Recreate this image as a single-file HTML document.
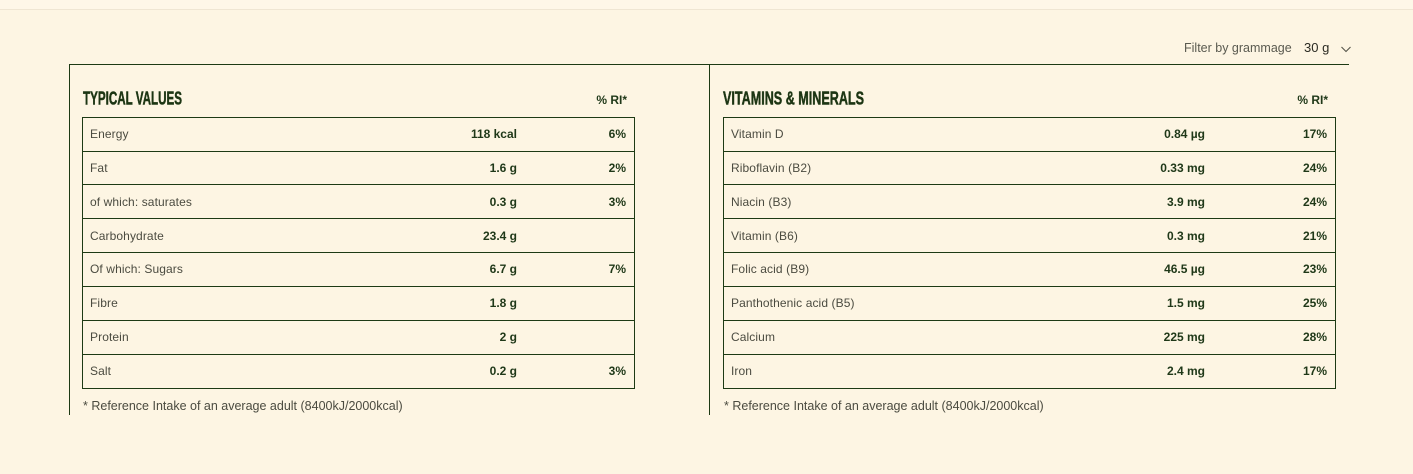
<!DOCTYPE html>
<html>
<head>
<meta charset="utf-8">
<style>
  html, body { margin:0; padding:0; }
  body { width:1413px; height:474px; background:#fdf5e3; position:relative; overflow:hidden;
         font-family:"Liberation Sans", Arial, sans-serif; }
  .abs { position:absolute; }
  .hl { position:absolute; height:1px; background:#1d3a14; }
  .vl { position:absolute; width:1px; background:#1d3a14; }
  .t { position:absolute; height:14px; line-height:14px; font-size:12px; white-space:nowrap; }
  .lab { color:#4b4b40; letter-spacing:0.1px; }
  .val { color:#1f3818; font-weight:bold; text-align:right; }
  .foot { color:#4b4b40; font-size:12.5px; }
</style>
</head>
<body>
<!-- top faint line -->
<div class="abs" style="left:0;top:0;width:1413px;height:9px;background:#fef7e8;"></div>
<div class="abs" style="left:0;top:9px;width:1413px;height:1px;background:#efe6d3;"></div>

<!-- filter -->
<div class="t" style="left:1184px;top:41px;font-size:12.5px;color:#5a5a50;">Filter by grammage</div>
<div class="t" style="left:1304px;top:41px;font-size:13px;color:#2a2a22;">30 g</div>
<svg class="abs" style="left:1340px;top:45px;" width="12" height="8" viewBox="0 0 12 8">
  <polyline points="1.5,2 6,6.5 10.5,2" fill="none" stroke="#55554a" stroke-width="1.1"/>
</svg>

<!-- outer lines -->
<div class="hl" style="left:69px;top:64px;width:1280px;"></div>
<div class="vl" style="left:69px;top:64px;height:351px;"></div>
<div class="vl" style="left:709px;top:64px;height:351px;"></div>

<!-- headings -->
<svg class="abs" style="left:0;top:0;" width="1413" height="120">
  <text x="83" y="104.5" font-family="Liberation Sans Narrow, Liberation Sans, sans-serif" font-weight="bold" font-size="18" fill="#1c3513" stroke="#1c3513" stroke-width="0.5" textLength="99" lengthAdjust="spacingAndGlyphs">TYPICAL VALUES</text>
  <text x="723" y="104.5" font-family="Liberation Sans Narrow, Liberation Sans, sans-serif" font-weight="bold" font-size="18" fill="#1c3513" stroke="#1c3513" stroke-width="0.5" textLength="141" lengthAdjust="spacingAndGlyphs">VITAMINS &amp; MINERALS</text>
</svg>
<div class="t val" style="left:527px;width:100px;top:93px;">% RI*</div>
<div class="t val" style="left:1228px;width:100px;top:93px;">% RI*</div>

<!-- table 1 -->
<div class="vl" style="left:82px;top:117px;height:272px;"></div>
<div class="vl" style="left:634px;top:117px;height:272px;"></div>
<div class="hl" style="left:82px;top:117px;width:553px;"></div>
<div class="hl" style="left:82px;top:151px;width:553px;"></div>
<div class="hl" style="left:82px;top:184px;width:553px;"></div>
<div class="hl" style="left:82px;top:218px;width:553px;"></div>
<div class="hl" style="left:82px;top:252px;width:553px;"></div>
<div class="hl" style="left:82px;top:286px;width:553px;"></div>
<div class="hl" style="left:82px;top:320px;width:553px;"></div>
<div class="hl" style="left:82px;top:354px;width:553px;"></div>
<div class="hl" style="left:82px;top:388px;width:553px;"></div>

<!-- table 2 -->
<div class="vl" style="left:723px;top:117px;height:272px;"></div>
<div class="vl" style="left:1335px;top:117px;height:272px;"></div>
<div class="hl" style="left:723px;top:117px;width:613px;"></div>
<div class="hl" style="left:723px;top:151px;width:613px;"></div>
<div class="hl" style="left:723px;top:184px;width:613px;"></div>
<div class="hl" style="left:723px;top:218px;width:613px;"></div>
<div class="hl" style="left:723px;top:252px;width:613px;"></div>
<div class="hl" style="left:723px;top:286px;width:613px;"></div>
<div class="hl" style="left:723px;top:320px;width:613px;"></div>
<div class="hl" style="left:723px;top:354px;width:613px;"></div>
<div class="hl" style="left:723px;top:388px;width:613px;"></div>

<!-- table 1 text -->
<div class="t lab" style="left:90px;top:127px;">Energy</div>
<div class="t val" style="left:397px;width:120px;top:127px;">118 kcal</div>
<div class="t val" style="left:526px;width:100px;top:127px;">6%</div>

<div class="t lab" style="left:90px;top:161px;">Fat</div>
<div class="t val" style="left:397px;width:120px;top:161px;">1.6 g</div>
<div class="t val" style="left:526px;width:100px;top:161px;">2%</div>

<div class="t lab" style="left:90px;top:195px;">of which: saturates</div>
<div class="t val" style="left:397px;width:120px;top:195px;">0.3 g</div>
<div class="t val" style="left:526px;width:100px;top:195px;">3%</div>

<div class="t lab" style="left:90px;top:229px;">Carbohydrate</div>
<div class="t val" style="left:397px;width:120px;top:229px;">23.4 g</div>

<div class="t lab" style="left:90px;top:262px;">Of which: Sugars</div>
<div class="t val" style="left:397px;width:120px;top:262px;">6.7 g</div>
<div class="t val" style="left:526px;width:100px;top:262px;">7%</div>

<div class="t lab" style="left:90px;top:296px;">Fibre</div>
<div class="t val" style="left:397px;width:120px;top:296px;">1.8 g</div>

<div class="t lab" style="left:90px;top:330px;">Protein</div>
<div class="t val" style="left:397px;width:120px;top:330px;">2 g</div>

<div class="t lab" style="left:90px;top:364px;">Salt</div>
<div class="t val" style="left:397px;width:120px;top:364px;">0.2 g</div>
<div class="t val" style="left:526px;width:100px;top:364px;">3%</div>

<!-- table 2 text -->
<div class="t lab" style="left:731px;top:127px;">Vitamin D</div>
<div class="t val" style="left:1085px;width:120px;top:127px;">0.84 µg</div>
<div class="t val" style="left:1227px;width:100px;top:127px;">17%</div>

<div class="t lab" style="left:731px;top:161px;">Riboflavin (B2)</div>
<div class="t val" style="left:1085px;width:120px;top:161px;">0.33 mg</div>
<div class="t val" style="left:1227px;width:100px;top:161px;">24%</div>

<div class="t lab" style="left:731px;top:195px;">Niacin (B3)</div>
<div class="t val" style="left:1085px;width:120px;top:195px;">3.9 mg</div>
<div class="t val" style="left:1227px;width:100px;top:195px;">24%</div>

<div class="t lab" style="left:731px;top:229px;">Vitamin (B6)</div>
<div class="t val" style="left:1085px;width:120px;top:229px;">0.3 mg</div>
<div class="t val" style="left:1227px;width:100px;top:229px;">21%</div>

<div class="t lab" style="left:731px;top:262px;">Folic acid (B9)</div>
<div class="t val" style="left:1085px;width:120px;top:262px;">46.5 µg</div>
<div class="t val" style="left:1227px;width:100px;top:262px;">23%</div>

<div class="t lab" style="left:731px;top:296px;">Panthothenic acid (B5)</div>
<div class="t val" style="left:1085px;width:120px;top:296px;">1.5 mg</div>
<div class="t val" style="left:1227px;width:100px;top:296px;">25%</div>

<div class="t lab" style="left:731px;top:330px;">Calcium</div>
<div class="t val" style="left:1085px;width:120px;top:330px;">225 mg</div>
<div class="t val" style="left:1227px;width:100px;top:330px;">28%</div>

<div class="t lab" style="left:731px;top:364px;">Iron</div>
<div class="t val" style="left:1085px;width:120px;top:364px;">2.4 mg</div>
<div class="t val" style="left:1227px;width:100px;top:364px;">17%</div>

<!-- footnotes -->
<div class="t foot" style="left:83px;top:399px;">* Reference Intake of an average adult (8400kJ/2000kcal)</div>
<div class="t foot" style="left:724px;top:399px;">* Reference Intake of an average adult (8400kJ/2000kcal)</div>
</body>
</html>
